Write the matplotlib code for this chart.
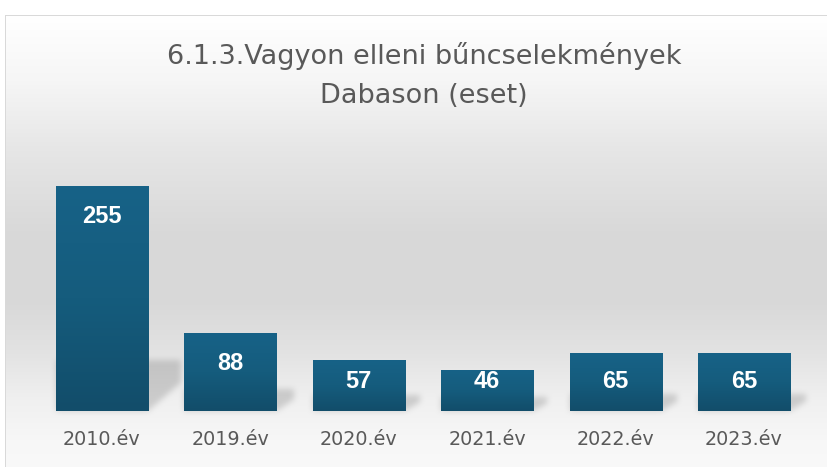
import numpy as np
import matplotlib.pyplot as plt
from matplotlib.path import Path
from matplotlib.colors import LinearSegmentedColormap

# chart data
years = ["2010.év", "2019.év", "2020.év", "2021.év", "2022.év", "2023.év"]
cases = [255, 88, 57, 46, 65, 65]
title_lines = ["6.1.3.Vagyon elleni bűncselekmények", "Dabason (eset)"]

W, H = 828, 467
TEXT_GREY = "#595959"

fig = plt.figure(figsize=(W / 100, H / 100), dpi=100)
ax = fig.add_axes([37.8 / W, 56 / H, 770.4 / W, 251 / H], zorder=2)
ax.set_facecolor("none")

x = np.arange(len(cases))
bars = ax.bar(x, cases, width=0.717, color="#155a7a", zorder=2)

# vertical gradient fill inside every bar
bar_cmap = LinearSegmentedColormap.from_list("bar", ["#124d6a", "#155c7d", "#176287"])
grad = np.linspace(0, 1, 100).reshape(-1, 1)
for b in bars:
    x0, w, h = b.get_x(), b.get_width(), b.get_height()
    ax.imshow(grad, cmap=bar_cmap, extent=(x0, x0 + w, 0, h), origin="lower",
              aspect="auto", interpolation="bilinear", zorder=3)

ax.set_xlim(-0.5, len(cases) - 0.5)
ax.set_ylim(0, 284.5)

# value labels inside the bars (pulled toward the middle on short bars)
px_per_unit = ax.transData.transform((0, 1))[1] - ax.transData.transform((0, 0))[1]
for b, v in zip(bars, cases):
    hpx = v * px_per_unit
    off_px = min(30, hpx - 29)
    ax.annotate(f"{v}", (b.get_x() + b.get_width() / 2, v), xytext=(0, -off_px * 0.72),
                textcoords="offset points", ha="center", va="center", color="white",
                fontsize=17, fontweight="bold", family="Liberation Sans", zorder=4)

ax.set_xticks(x, years)
ax.tick_params(axis="x", length=0, pad=13.7, labelsize=13.8, labelcolor=TEXT_GREY)
ax.set_yticks([])
for s in ax.spines.values():
    s.set_visible(False)

# background: vertical grey gradient + soft bar shadows
stops_y = [15, 80, 150, 230, 300, 350, 400, 440, 467]
stops_v = [255, 246, 230, 217, 216, 226, 240, 247, 249]
col = np.interp(np.arange(H), stops_y, stops_v)
bg = np.tile(col[:, None], (1, W)).astype(float)

yy, xx = np.mgrid[0:H, 0:W]
pts = np.column_stack([xx.ravel() + 0.5, yy.ravel() + 0.5])
mask = np.zeros(H * W)
for b in bars:
    (xl, yb), (xr, yt) = ax.transData.transform(
        [(b.get_x(), 0), (b.get_x() + b.get_width(), b.get_height())])
    rb, rt = H - yb, H - yt
    hpx = rb - rt
    sh = 0.2 * hpx + 6
    dx = 10 + 0.1 * hpx
    poly = Path([(xl, rb), (xr, rb), (xr + dx, rb - 0.55 * sh),
                 (xr + dx, rb - sh), (xl, rb - sh)])
    mask = np.maximum(mask, poly.contains_points(pts))
mask = mask.reshape(H, W)


def blur(a, r):
    k = np.ones(2 * r + 1) / (2 * r + 1)
    a = np.apply_along_axis(lambda m: np.convolve(m, k, mode="same"), 0, a)
    a = np.apply_along_axis(lambda m: np.convolve(m, k, mode="same"), 1, a)
    return a


mask = blur(blur(mask, 3), 3)
bg = bg * (1 - 0.15 * mask)

# outer white margin and chart-area border
bg[:15, :] = 255
bg[:, :5] = 255
bg[15, 5:] = 217
bg[15:, 5] = 217

img = np.dstack([bg] * 3).clip(0, 255).astype(np.uint8)
fig.figimage(img, xo=0, yo=0, origin="upper", zorder=0)

# title
fig.text(424 / W, 1 - 64 / H, title_lines[0], ha="center", va="baseline",
         fontsize=19.5, color=TEXT_GREY)
fig.text(424 / W, 1 - 103 / H, title_lines[1], ha="center", va="baseline",
         fontsize=19.5, color=TEXT_GREY)

fig.savefig("out.png", dpi=100)
